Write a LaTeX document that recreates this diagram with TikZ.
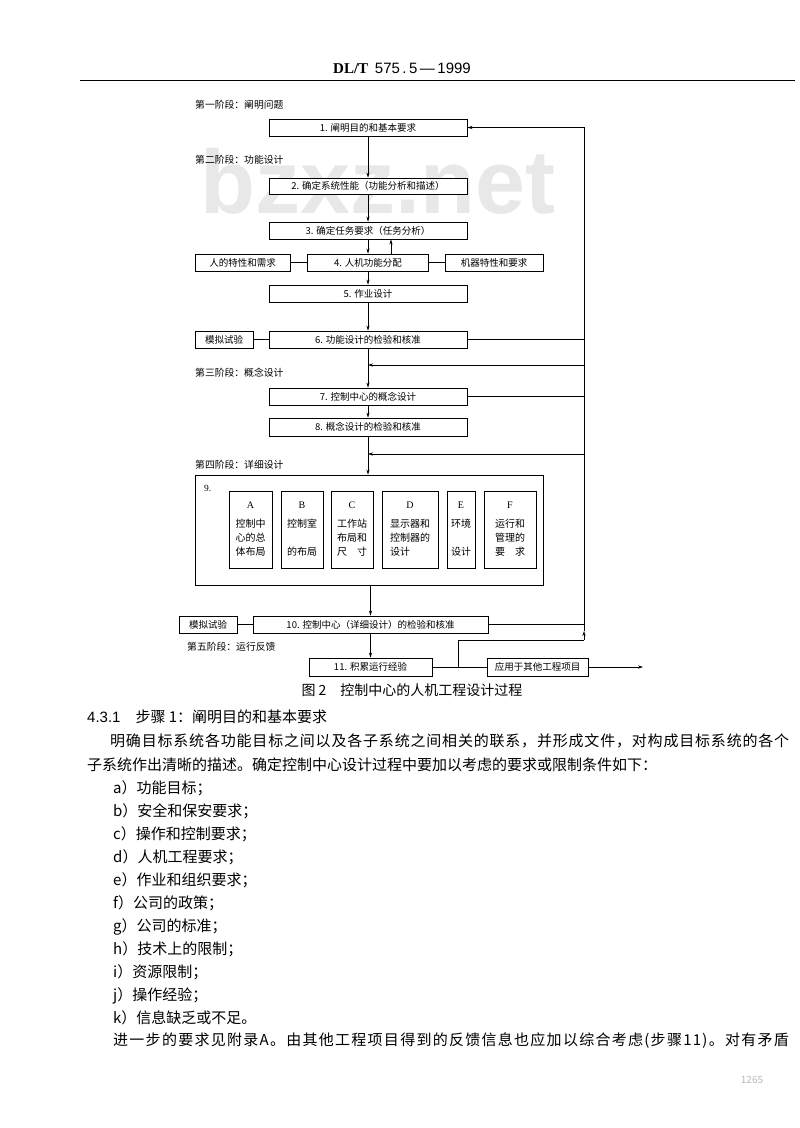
\documentclass[tikz,border=0pt]{standalone}
\usepackage{fontspec}
\setmainfont{Noto Sans CJK SC}
\newfontfamily\serifen{Liberation Serif}
\newfontfamily\sansen{Liberation Sans}
\newfontfamily\cjkwideA[LetterSpace=5.4]{Noto Sans CJK SC}
\newfontfamily\cjkwideB[LetterSpace=8.5]{Noto Sans CJK SC}
\usetikzlibrary{arrows.meta,calc}
\begin{document}
\begin{tikzpicture}[x=1pt,y=-1pt,
  box/.style={draw,line width=0.9pt,fill=white,inner sep=0pt,font=\fontsize{9.5}{11}\selectfont},
  sub/.style={draw,line width=0.9pt,fill=white,inner sep=0pt,minimum height=77pt,align=center,font=\fontsize{10}{14}\selectfont},
  stage/.style={anchor=west,inner sep=0pt,font=\fontsize{9.8}{11}\selectfont},
  conn/.style={line width=0.6pt},
  arr/.style={line width=0.6pt,-{Stealth[length=5pt,width=3.2pt]}},
  body/.style={anchor=base west,inner sep=0pt,font=\fontsize{15}{18}\selectfont}]
\useasboundingbox (0,0) rectangle (800,1128);
\fill[white] (0,0) rectangle (800,1128);
% watermark
\node[anchor=base west,inner sep=0pt,text=gray!18,font=\sansen\bfseries\fontsize{90}{90}\selectfont] (wm) at (200,213) {bzxz.net};
% header
\node[inner sep=0pt,font=\fontsize{15}{18}\selectfont] (hdr) at (402,68) {{\serifen\bfseries DL/T}\ \ {\sansen 575\,.\,5\,—\,1999}};
\draw[line width=0.8pt] (80,80) -- (795,80);
% stage labels
\node[stage] (st1) at (195,105) {第一阶段：阐明问题};
\node[stage] (st2) at (195,160) {第二阶段：功能设计};
\node[stage] (st3) at (195,373) {第三阶段：概念设计};
\node[stage] (st4) at (195,465) {第四阶段：详细设计};
\node[stage] (st5) at (187,647) {第五阶段：运行反馈};
% boxes
\node[box,minimum width=198pt,minimum height=17pt] (b1) at (368,127.5) {1. 阐明目的和基本要求};
\node[box,minimum width=198pt,minimum height=16pt] (b2) at (368,186) {2. 确定系统性能（功能分析和描述）};
\node[box,minimum width=198pt,minimum height=17pt] (b3) at (368,230.5) {3. 确定任务要求（任务分析）};
\node[box,minimum width=121pt,minimum height=17pt] (b4) at (368,262.5) {4. 人机功能分配};
\node[box,minimum width=95pt,minimum height=17pt] (bh) at (242.5,262.5) {人的特性和需求};
\node[box,minimum width=98pt,minimum height=17pt] (bm) at (494,262.5) {机器特性和要求};
\node[box,minimum width=198pt,minimum height=17pt] (b5) at (368,293.5) {5. 作业设计};
\node[box,minimum width=58pt,minimum height=17pt] (s1) at (224,339.5) {模拟试验};
\node[box,minimum width=198pt,minimum height=17pt] (b6) at (368,339.5) {6. 功能设计的检验和核准};
\node[box,minimum width=198pt,minimum height=17pt] (b7) at (368,396.5) {7. 控制中心的概念设计};
\node[box,minimum width=198pt,minimum height=18pt] (b8) at (368,427) {8. 概念设计的检验和核准};
\node[box,minimum width=348pt,minimum height=110pt] (b9) at (369,530) {};
\node[anchor=west,inner sep=0pt,font=\serifen\fontsize{9.5}{11}\selectfont] (n9) at (204,488) {9.};
\node[sub,minimum width=43pt] (sa) at (250.5,529.5) {{\serifen A}\\[5pt]控制中\\心的总\\体布局};
\node[sub,minimum width=42pt] (sb) at (302,529.5) {{\serifen B}\\[5pt]控制室\\\mbox{}\\的布局};
\node[sub,minimum width=42pt] (sc) at (352,529.5) {{\serifen C}\\[5pt]工作站\\布局和\\尺　寸};
\node[sub,minimum width=56pt] (sd) at (410,529.5) {{\serifen D}\\[5pt]显示器和\\控制器的\\\makebox[40pt][l]{设计}};
\node[sub,minimum width=28pt] (se) at (461,529.5) {{\serifen E}\\[5pt]环境\\\mbox{}\\设计};
\node[sub,minimum width=52pt] (sf) at (510,529.5) {{\serifen F}\\[5pt]运行和\\管理的\\要　求};
\node[box,minimum width=58pt,minimum height=17pt] (s2) at (208,624.5) {模拟试验};
\node[box,minimum width=235pt,minimum height=17pt] (b10) at (370.5,624.5) {10. 控制中心（详细设计）的检验和核准};
\node[box,minimum width=123pt,minimum height=18pt] (b11) at (370.5,667) {11. 积累运行经验};
\node[box,minimum width=101pt,minimum height=18pt] (bapp) at (537.5,667) {应用于其他工程项目};
% main flow
\draw[arr] (b1) -- (b2);
\draw[arr] (b2) -- (b3);
\draw[arr] (b3) -- (b4);
\draw[arr] ([xshift=23pt]b4.north) -- ([xshift=23pt]b3.south);
\draw[arr] (b4) -- (b5);
\draw[arr] (b5) -- (b6);
\draw[arr] (b6) -- (b7);
\draw[arr] (b7) -- (b8);
\draw[arr] (b8.south) -- (b8.south |- b9.north);
\draw[arr] (b10.north |- b9.south) -- (b10.north);
\draw[arr] (b10) -- (b11);
% side links
\draw[conn] (bh) -- (b4);
\draw[conn] (b4) -- (bm);
\draw[conn] (s1) -- (b6);
\draw[conn] (s2) -- (b10);
% feedback loop
\coordinate (rtop) at (584,127.5);
\coordinate (rbot) at (584,640);
\coordinate (rarr) at (584,631);
\coordinate (jn) at (458,667);
\coordinate (f1r) at (584,365);
\coordinate (f1l) at (368,365);
\coordinate (f2r) at (584,454);
\coordinate (f2l) at (368,454);
\coordinate (outend) at (643,667);
\draw[conn] (b6.east) -- (b6.east -| rtop);
\draw[conn] (b7.east) -- (b7.east -| rtop);
\draw[conn] (b10.east) -- (b10.east -| rtop);
\draw[arr] (f1r) -- (f1l);
\draw[arr] (f2r) -- (f2l);
\draw[conn] (b11) -- (bapp);
\draw[conn] (jn) |- (rbot);
\draw[arr] (rbot) -- (rarr);
\draw[arr] (rarr) |- (b1.east);
\draw[arr] (bapp) -- (outend);
% caption
\node[inner sep=0pt,font=\fontsize{14}{16}\selectfont] (cap) at (412,690) {图 2　控制中心的人机工程设计过程};
% body text
\node[body] (h431) at (87,722) {{\sansen 4.3.1}\quad 步骤 1：阐明目的和基本要求};
\node[body] (p1) at (110,746) {\cjkwideA 明确目标系统各功能目标之间以及各子系统之间相关的联系，并形成文件，对构成目标系统的各个};
\node[body] (p2) at (87,770) {子系统作出清晰的描述。确定控制中心设计过程中要加以考虑的要求或限制条件如下：};
\node[body] (ia) at (113,793) {a）功能目标；};
\node[body] (ib) at (113,816) {b）安全和保安要求；};
\node[body] (ic) at (113,839) {c）操作和控制要求；};
\node[body] (id) at (113,862) {d）人机工程要求；};
\node[body] (ie) at (113,885) {e）作业和组织要求；};
\node[body] (if) at (113,908) {f）公司的政策；};
\node[body] (ig) at (113,931) {g）公司的标准；};
\node[body] (ih) at (113,954) {h）技术上的限制；};
\node[body] (ii) at (113,977) {i）资源限制；};
\node[body] (ij) at (113,1000) {j）操作经验；};
\node[body] (ik) at (113,1023) {k）信息缺乏或不足。};
\node[body] (p3) at (113,1045) {\cjkwideB 进一步的要求见附录A。由其他工程项目得到的反馈信息也应加以综合考虑(步骤11)。对有矛盾};
\node[inner sep=0pt,font=\fontsize{10}{12}\selectfont,text=gray!55] (pg) at (752,1080) {1265};
\end{tikzpicture}
\end{document}
